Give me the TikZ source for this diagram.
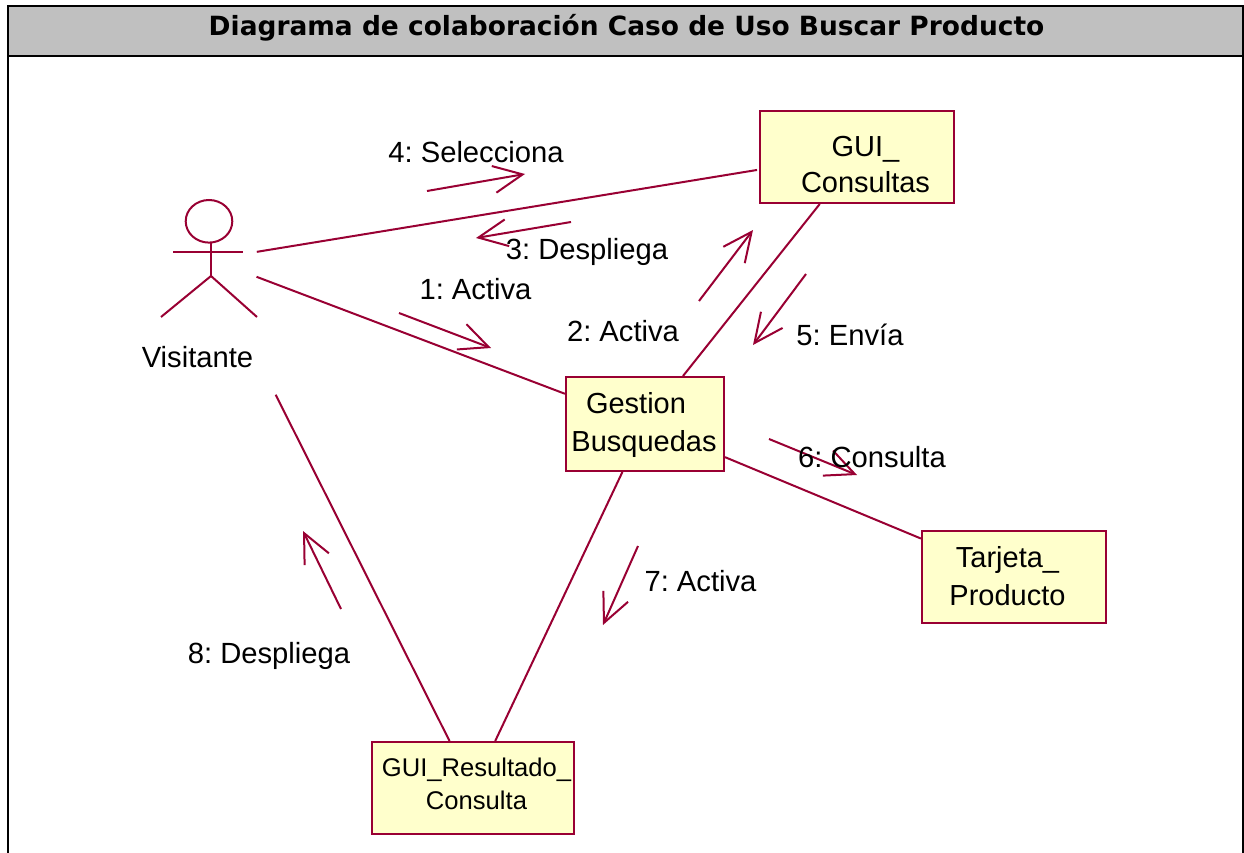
\documentclass[tikz,border=0pt]{standalone}
\usepackage{fontspec}
\setmainfont{Liberation Sans}
\newfontfamily\titlefont{DejaVu Sans}
\usetikzlibrary{arrows.meta}
\definecolor{rose}{HTML}{990033}
\definecolor{boxfill}{HTML}{FFFFCC}
\definecolor{headfill}{HTML}{C0C0C0}
\frenchspacing
\tikzset{
  x=1pt,y=-1pt,
  assoc/.style={draw=rose,line width=2pt},
  msg/.style={draw=rose,line width=2pt,-{Straight Barb[length=29pt,width=27pt,line width=2pt]}},
  objbox/.style={draw=rose,line width=2.2pt,fill=boxfill,rectangle,inner sep=0pt,outer sep=1pt},
  lbl/.style={font=\fontsize{29.2}{34}\selectfont,anchor=base,inner sep=0pt,text=black},
  boxtxt/.style={font=\fontsize{29}{36}\selectfont,align=center,inner sep=0pt,text=black},
  actorstroke/.style={draw=rose,line width=2pt}
}
\begin{document}
\begin{tikzpicture}
\useasboundingbox (0,0) rectangle (1244,853);
\fill[white] (0,0) rectangle (1244,853);
% frame
\node[draw=black,line width=2.2pt,fill=headfill,minimum width=1235.5pt,minimum height=50pt,inner sep=0pt,outer sep=0pt,anchor=north west] (header) at (8,6) {};
\node[font=\titlefont\bfseries\fontsize{26.45}{30}\selectfont,inner sep=0pt] (title) at (626.5,28) {Diagrama de colaboración Caso de Uso Buscar Producto};
\draw[black,line width=2.2pt] (header.south west) -- (8,853);
\draw[black,line width=2.2pt] (header.south east) -- (1243.5,853);
% actor: zero-size anchor the associations start from
\node[inner sep=0pt,outer sep=0pt,minimum size=0pt] (actor) at (207,258) {};
\draw[actorstroke] (209,221.3) ellipse [x radius=23.3,y radius=21.3];
\draw[actorstroke] (173,252) -- (243,252);
\draw[actorstroke] (211,243) -- (211,276);
\draw[actorstroke] (161,317) -- (211,276) -- (257,317);
\node[lbl] (visitante) at (197.5,367) {Visitante};
% boxes
\node[objbox,minimum width=194pt,minimum height=92pt] (consultas) at (857,157) {};
\node[objbox,minimum width=158pt,minimum height=94pt] (gestion) at (645,424) {};
\node[objbox,minimum width=184pt,minimum height=92pt] (tarjeta) at (1014,577) {};
\node[objbox,minimum width=202pt,minimum height=92pt] (resultado) at (473,788) {};
% associations
\draw[assoc,shorten <=50.5pt,shorten >=101.3pt] ([yshift=-2pt]actor.center) -- ([yshift=3.4pt]consultas.center);
\draw[assoc,shorten <=53pt] (actor) -- (gestion);
\draw[assoc,shorten <=153pt] (actor) -- (resultado);
\draw[assoc] (gestion) -- (consultas);
\draw[assoc] (gestion) -- (tarjeta);
\draw[assoc] (gestion) -- (resultado);
% box texts
\node[boxtxt] (consultasT) at (865.5,165) {GUI\_\\Consultas};
\node[boxtxt,font=\fontsize{29}{38}\selectfont] (gestionT) at (644,425) {\makebox[0pt]{\hspace{-16pt}Gestion}\\Busquedas};
\node[boxtxt,font=\fontsize{29}{38}\selectfont] (tarjetaT) at (1007.5,576) {Tarjeta\_\\Producto};
\node[boxtxt,font=\fontsize{25.6}{33}\selectfont] (resultadoT) at (476.5,784) {GUI\_Resultado\_\\Consulta};
% message arrows
\coordinate (m4a) at (427,191); \coordinate (m4b) at (525,174);
\coordinate (m3a) at (571,222); \coordinate (m3b) at (476,238);
\coordinate (m1a) at (399,313); \coordinate (m1b) at (491,348);
\coordinate (m2a) at (699,301); \coordinate (m2b) at (753,230);
\coordinate (m5a) at (806,274); \coordinate (m5b) at (753,345);
\coordinate (m6a) at (769,439); \coordinate (m6b) at (857,475);
\coordinate (m7a) at (638,546); \coordinate (m7b) at (603,625);
\coordinate (m8a) at (341,609); \coordinate (m8b) at (303,531);
\draw[msg] (m4a) -- (m4b);
\draw[msg] (m3a) -- (m3b);
\draw[msg] (m1a) -- (m1b);
\draw[msg] (m2a) -- (m2b);
\draw[msg] (m5a) -- (m5b);
\draw[msg] (m6a) -- (m6b);
\draw[msg] (m7a) -- (m7b);
\draw[msg] (m8a) -- (m8b);
% labels
\node[lbl] (l4) at (476,163) {4: Selecciona};
\node[lbl] (l3) at (587,259) {3: Despliega};
\node[lbl] (l1) at (475.5,299) {1: Activa};
\node[lbl] (l2) at (623,341) {2: Activa};
\node[lbl] (l5) at (850,345) {5: Envía};
\node[lbl] (l6) at (872,467) {6: Consulta};
\node[lbl] (l7) at (700.5,591) {7: Activa};
\node[lbl] (l8) at (269,663) {8: Despliega};
\end{tikzpicture}
\end{document}
